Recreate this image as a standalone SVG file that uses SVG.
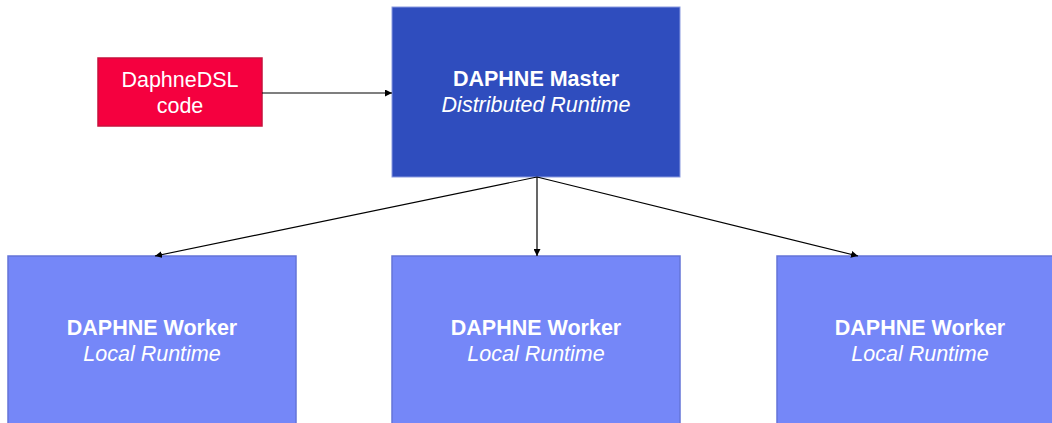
<svg xmlns="http://www.w3.org/2000/svg" width="1052" height="423" viewBox="0 0 1052 423">
<style>
.t{font-family:"Liberation Sans",Arial,sans-serif;font-size:21.5px;fill:#fff;text-anchor:middle}
.b{font-weight:bold}
.i{font-style:italic}
.w{fill:#7587F8;stroke:#6474D8;stroke-width:1.5}
.c{stroke:#000;stroke-width:1.2;fill:none;marker-end:url(#ah)}
</style>
<defs>
<marker id="ah" viewBox="0 0 10 10" refX="10" refY="5" markerWidth="7" markerHeight="7" markerUnits="userSpaceOnUse" orient="auto">
<path d="M0,0 L10,5 L0,10 z" fill="#000"/>
</marker>
</defs>
<rect width="1052" height="423" fill="#fff"/>
<g id="dsl">
<rect x="98" y="58" width="164" height="68" fill="#F5003F" stroke="#C8103C" stroke-width="1.5"/>
<text class="t" x="180" y="87">DaphneDSL</text>
<text class="t" x="180" y="113">code</text>
</g>
<g id="master">
<rect x="392" y="7" width="288" height="170" fill="#2F4DBE" stroke="#8A9AE0" stroke-width="1"/>
<text class="t b" x="536" y="86">DAPHNE Master</text>
<text class="t i" x="536" y="112">Distributed Runtime</text>
</g>
<g id="worker1">
<rect class="w" x="8" y="256" width="288" height="180"/>
<text class="t b" x="152" y="335">DAPHNE Worker</text>
<text class="t i" x="152" y="361">Local Runtime</text>
</g>
<g id="worker2">
<rect class="w" x="392" y="256" width="288" height="180"/>
<text class="t b" x="536" y="335">DAPHNE Worker</text>
<text class="t i" x="536" y="361">Local Runtime</text>
</g>
<g id="worker3">
<rect class="w" x="777" y="256" width="288" height="180"/>
<text class="t b" x="920" y="335">DAPHNE Worker</text>
<text class="t i" x="920" y="361">Local Runtime</text>
</g>
<g id="connectors">
<line class="c" x1="262" y1="93" x2="392" y2="93"/>
<line class="c" x1="537" y1="177" x2="155" y2="256"/>
<line class="c" x1="537" y1="177" x2="537" y2="256"/>
<line class="c" x1="537" y1="177" x2="858" y2="256"/>
</g>
</svg>
